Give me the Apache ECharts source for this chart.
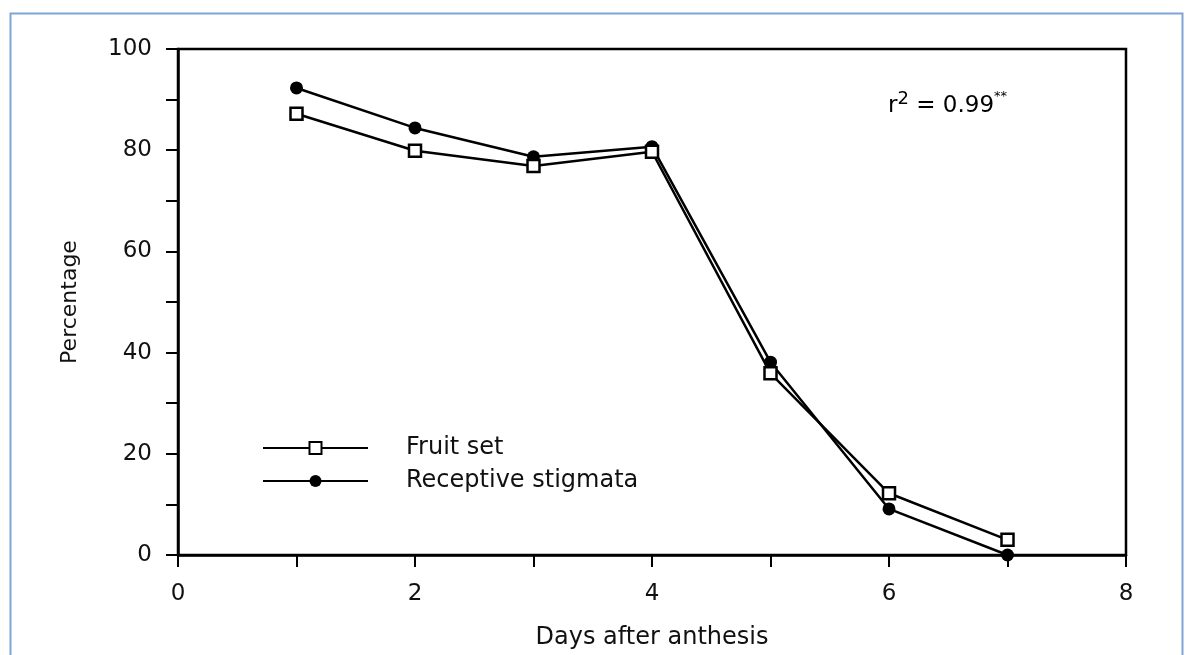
<!DOCTYPE html>
<html>
<head>
<meta charset="utf-8">
<script src="https://cdn.jsdelivr.net/npm/echarts@6/dist/echarts.min.js"></script>
<style>
html, body { margin: 0; padding: 0; background: #fff; }
#main { width: 1187px; height: 655px; }
</style>
</head>
<body>
<div id="main"></div>
<script>
// days after anthesis
var days = [1, 2, 3, 4, 5, 6, 7];
// percentages
var fruitSet = [87.2, 79.9, 76.9, 79.7, 35.9, 12.2, 3.0];
var receptive = [92.3, 84.4, 78.7, 80.7, 38.1, 9.1, 0];
var xTicks = [0, 2, 4, 6, 8];
var yTicks = [0, 20, 40, 60, 80, 100];

var font = '"DejaVu Sans", "Liberation Sans", Arial, sans-serif';

function pairs(xs, ys) {
	var d = [];
	for (var i = 0; i < xs.length; i++) {
		d.push([xs[i], ys[i]]);
	}
	return d;
}

var myChart = echarts.init(document.getElementById('main'));
var option = {
	backgroundColor: '#fff',
	animation: false,
	grid: {
		left: 178, right: 61, top: 49, bottom: 100,
		show: true, borderColor: '#000', borderWidth: 2.5
	},
	legend: {
		orient: 'vertical',
		left: 262, top: 436, padding: 0,
		itemWidth: 105, itemHeight: 15,
		itemGap: 9,
		textStyle: { fontFamily: font, fontSize: 24, lineHeight: 24, color: '#111', padding: [0, 0, 0, 33] },
		data: ['Fruit set', 'Receptive stigmata']
	},
	xAxis: {
		type: 'value', min: 0, max: 8, interval: 1,
		name: 'Days after anthesis', nameLocation: 'middle', nameGap: 71,
		nameTextStyle: { fontFamily: font, fontSize: 24, color: '#111' },
		axisLine: { lineStyle: { color: '#000', width: 2.5 } },
		axisTick: { inside: false, length: 12, lineStyle: { color: '#000', width: 2 } },
		axisLabel: {
			margin: 28, fontFamily: font, fontSize: 23, color: '#111',
			formatter: function (v) { return xTicks.indexOf(v) >= 0 ? String(v) : ''; }
		},
		splitLine: { show: false }
	},
	yAxis: {
		type: 'value', min: 0, max: 100, interval: 10,
		name: 'Percentage', nameLocation: 'middle', nameGap: 97,
		nameTextStyle: { fontFamily: font, fontSize: 22, color: '#111' },
		axisLine: { lineStyle: { color: '#000', width: 2.5 } },
		axisTick: { inside: false, length: 12, lineStyle: { color: '#000', width: 2 } },
		axisLabel: {
			margin: 26, fontFamily: font, fontSize: 23, color: '#111',
			formatter: function (v) { return yTicks.indexOf(v) >= 0 ? String(v) : ''; }
		},
		splitLine: { show: false }
	},
	graphic: [
		{
			type: 'rect', left: 8, top: 11, z: -1,
			shape: { width: 1172, height: 660 },
			style: { fill: 'none', stroke: '#7fa5d8', lineWidth: 2 }
		},
		{
			type: 'text', left: 888, top: 90,
			style: {
				text: '{b|r}{s|2}{b| = 0.99}{t|**}',
				rich: {
					b: { fontFamily: font, fontSize: 23, color: '#111', verticalAlign: 'bottom', lineHeight: 28 },
					s: { fontFamily: font, fontSize: 18, color: '#111', verticalAlign: 'top', lineHeight: 28 },
					t: { fontFamily: font, fontSize: 13, color: '#111', verticalAlign: 'top', lineHeight: 28 }
				}
			}
		}
	],
	series: [
		{
			name: 'Fruit set', type: 'line',
			data: pairs(days, fruitSet),
			symbol: 'rect', symbolSize: 12,
			lineStyle: { color: '#000', width: 2.5 },
			itemStyle: { color: '#fff', borderColor: '#000', borderWidth: 2.5 },
			z: 3
		},
		{
			name: 'Receptive stigmata', type: 'line',
			data: pairs(days, receptive),
			symbol: 'circle', symbolSize: 13,
			lineStyle: { color: '#000', width: 2.5 },
			itemStyle: { color: '#000', borderColor: '#000', borderWidth: 0 },
			z: 2
		}
	]
};
myChart.setOption(option);
</script>
</body>
</html>
